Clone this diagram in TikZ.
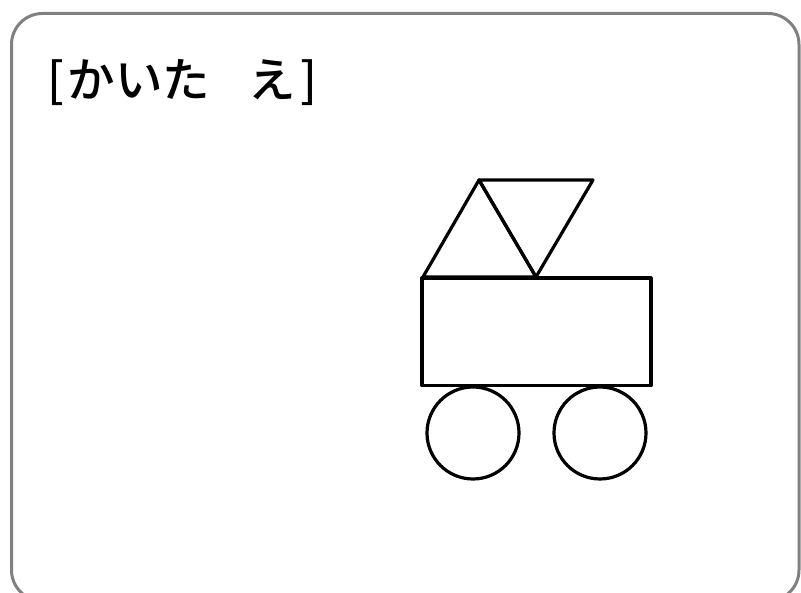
\documentclass[tikz,border=0pt]{standalone}
\usepackage{fontspec}
\newfontfamily\cjk{Noto Sans CJK JP}[UprightFont={* Medium}]
\begin{document}
\begin{tikzpicture}[x=1pt,y=1pt,
  frame/.style={draw=black!50, line width=3pt, rounded corners=31pt},
  part/.style={draw=black, line width=3.2pt, line join=round, line cap=round},
  title/.style={font=\cjk\fontsize{47.5}{52}\selectfont, inner sep=0pt, anchor=base west}]
\useasboundingbox (0,0) rectangle (801,593);
\draw[frame] (11.5,-8) rectangle (799,579.5);
\node[title] (t) at (47,495) {[\hspace{0.08em}かいた\hspace{0.8em}え\hspace{0.1em}]};
\coordinate (A) at (423,316);
\coordinate (B) at (479,413);
\coordinate (C) at (536,316);
\coordinate (D) at (593,413);
\draw[part] (A) -- (B) -- (C) -- cycle;
\draw[part] (B) -- (D) -- (C) -- cycle;
\draw[part] (422,315) rectangle (651,207.5);
\draw[part] (473,160) circle[radius=46];
\draw[part] (600,160) circle[radius=46];
\end{tikzpicture}
\end{document}
